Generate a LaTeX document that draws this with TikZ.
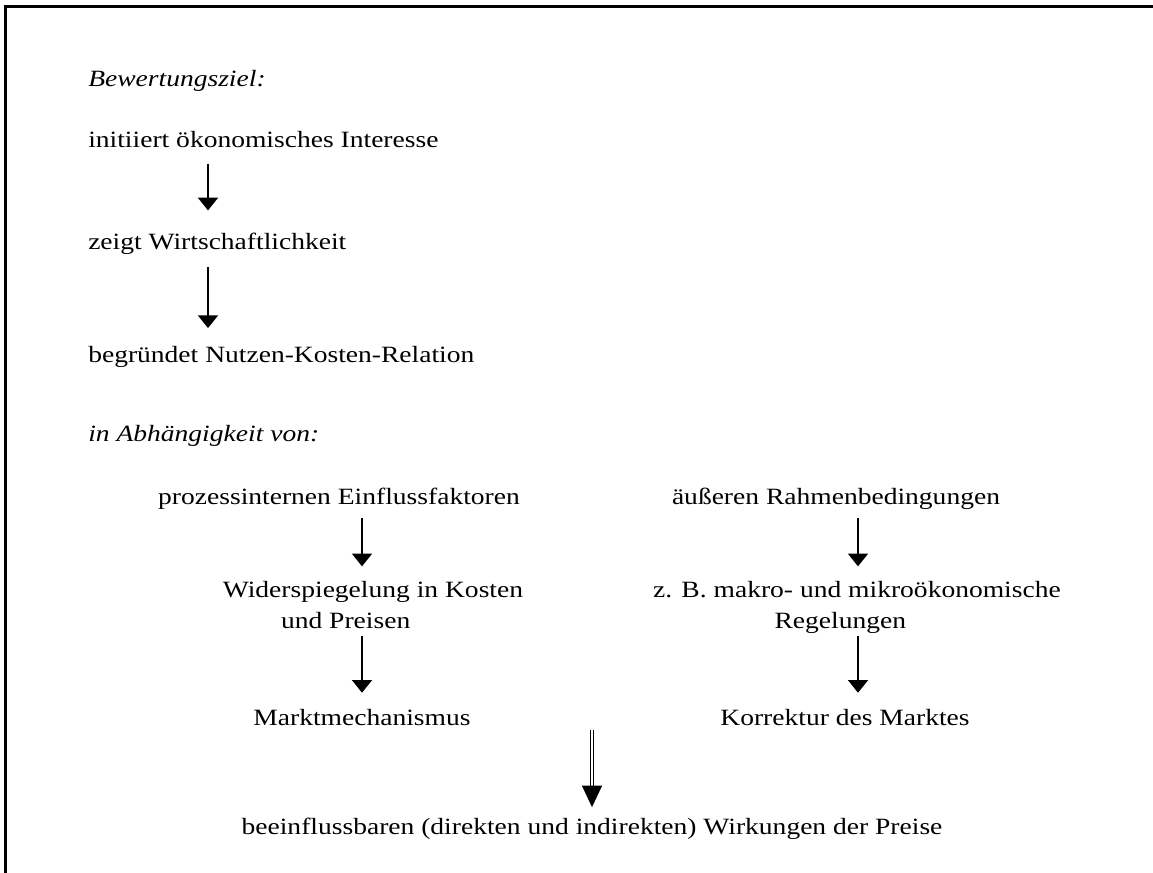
\documentclass[tikz,border=0pt]{standalone}
\usepackage{fontspec}
\setmainfont{Liberation Serif}[FakeStretch=1.18]
\usetikzlibrary{arrows.meta}

\begin{document}
\begin{tikzpicture}[
        x=0.75pt, y=-0.75pt,
        txt/.style={inner sep=0pt, text height=12pt, text depth=4pt, font=\fontsize{17.5}{23.3}\selectfont},
        lbl/.style={txt, anchor=base west},
        head/.style={lbl, font=\fontsize{17.5}{23.3}\selectfont\itshape},
        ctr/.style={txt, anchor=base},
        twoline/.style={inner sep=0pt, align=center, anchor=north, font=\fontsize{17.5}{23.3}\selectfont},
        arrow/.style={-{Triangle[width=15pt, length=9.5pt]}, line width=1pt},
        dbl/.style={double, double distance=2.2pt, line width=0.75pt},
        dbltip/.style={-{Triangle[width=15pt, length=16pt]}, line width=0.4pt},
        frame/.style={line width=2.25pt, line join=miter},
    ]
    \useasboundingbox (0,0) rectangle (1153,873);

    % ===== Frame =====
    \draw[frame] (5,873) -- (5,7) -- (1153,7);

    % ===== Bewertungsziel =====
    \node[head] (BZ) at (88,87) {Bewertungsziel:};
    \node[lbl] (INIT) at (88,148) {initiiert ökonomisches Interesse};
    \node[lbl] (ZEIGT) at (88,250) {zeigt Wirtschaftlichkeit};
    \node[lbl] (BEGR) at (88,363) {begründet Nutzen-Kosten-Relation};

    \coordinate (AX) at (208,0);
    \draw[arrow, shorten <=7.5pt, shorten >=17.5pt] (INIT.south -| AX) -- (ZEIGT.north -| AX);
    \draw[arrow, shorten <=8.5pt, shorten >=14pt] (ZEIGT.south -| AX) -- (BEGR.north -| AX);

    % ===== Abhaengigkeit =====
    \node[head] (ABH) at (88,441) {in Abhängigkeit von:};

    % left column
    \node[ctr] (PROZ) at (339,504) {prozessinternen Einflussfaktoren};
    \node[twoline] (WIDER) at (373,581) {Widerspiegelung in Kosten\\und Preisen\hspace*{41pt}};
    \node[ctr] (MARKT) at (362,725) {Marktmechanismus};

    \coordinate (LX) at (362,0);
    \draw[arrow, shorten <=6.5pt, shorten >=11pt] (PROZ.south -| LX) -- (WIDER.north -| LX);
    \draw[arrow, shorten <=5pt, shorten >=12pt] (WIDER.south -| LX) -- (MARKT.north -| LX);

    % right column
    \node[ctr] (AUSS) at (836,504) {äußeren Rahmenbedingungen};
    \node[twoline] (ZB) at (857,581) {z. B. makro- und mikroökonomische\\Regelungen\hspace*{25pt}};
    \node[ctr] (KORR) at (845,725) {Korrektur des Marktes};

    \coordinate (RX) at (858,0);
    \draw[arrow, shorten <=6.5pt, shorten >=11pt] (AUSS.south -| RX) -- (ZB.north -| RX);
    \draw[arrow, shorten <=1.5pt, shorten >=12pt] (ZB.south -| RX) -- (KORR.north -| RX);

    % ===== Wirkungen =====
    \node[ctr] (WIRK) at (592,834) {beeinflussbaren (direkten und indirekten) Wirkungen der Preise};
    \coordinate (DTOP) at (592,730);
    \draw[dbl, shorten >=22pt] (DTOP) -- (WIRK.north);
    \draw[dbltip, shorten <=44pt, shorten >=8pt] (DTOP) -- (WIRK.north);

\end{tikzpicture}
\end{document}
